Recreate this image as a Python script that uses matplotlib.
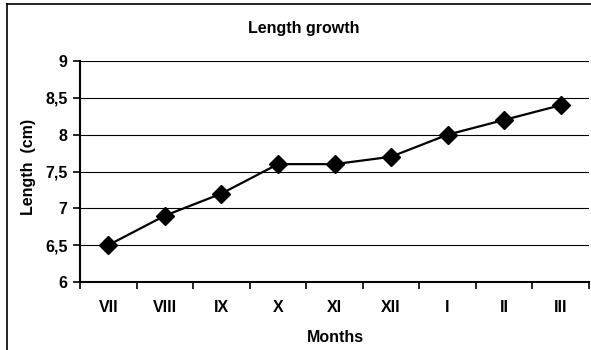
import matplotlib.pyplot as plt
from matplotlib.lines import Line2D

months = ['VII', 'VIII', 'IX', 'X', 'XI', 'XII', 'I', 'II', 'III']
length_cm = [6.5, 6.9, 7.2, 7.6, 7.6, 7.7, 8.0, 8.2, 8.4]
y_ticks = [6, 6.5, 7, 7.5, 8, 8.5, 9]
y_labels = ['6', '6,5', '7', '7,5', '8', '8,5', '9']

plt.rcParams['font.family'] = ['Liberation Sans', 'DejaVu Sans']
plt.rcParams['font.weight'] = 'bold'
fs = 11.5

fig = plt.figure(figsize=(5.91, 3.5), dpi=100)
W, H = 591, 350
ax = fig.add_axes([80 / W, (H - 282) / H, 509 / W, 221 / H])

# outer chart frame (cut off on right and bottom)
fig.add_artist(Line2D([7 / W, 1], [1 - 4 / H, 1 - 4 / H], color='black', lw=1.2))
fig.add_artist(Line2D([7 / W, 7 / W], [0, 1 - 4 / H], color='black', lw=1.2))

x = list(range(len(months)))
ax.plot(x, length_cm, color='black', lw=1.6, marker='D', markersize=9,
        markerfacecolor='black', zorder=3)

ax.set_xlim(-0.5, len(months) - 0.5)
ax.set_ylim(6, 9)
ax.set_yticks(y_ticks)
ax.set_yticklabels(y_labels, fontsize=fs, fontweight='bold')
ax.set_xticks(x)
ax.set_xticklabels(months, fontsize=fs, fontweight='bold')
ax.tick_params(axis='x', length=0, pad=13)
ax.set_xticks([i - 0.5 for i in range(len(months) + 1)], minor=True)
ax.tick_params(axis='x', which='minor', direction='out', length=5, width=1.2)
ax.tick_params(axis='y', direction='out', length=5, width=1.2, pad=4)

ax.grid(axis='y', color='black', lw=0.8)
ax.set_axisbelow(True)
for s in ['top', 'right']:
    ax.spines[s].set_visible(False)
for s in ['left', 'bottom']:
    ax.spines[s].set_linewidth(1.5)

fig.text(304 / W, 1 - 28 / H, 'Length growth', fontsize=fs, fontweight='bold',
         ha='center', va='center')
fig.text(335 / W, 1 - 337 / H, 'Months', fontsize=fs, fontweight='bold',
         ha='center', va='center')
fig.text(28 / W, 1 - 167 / H, 'Length  (cm)', fontsize=fs, fontweight='bold',
         ha='center', va='center', rotation=90)

fig.savefig('out.png', dpi=100)
